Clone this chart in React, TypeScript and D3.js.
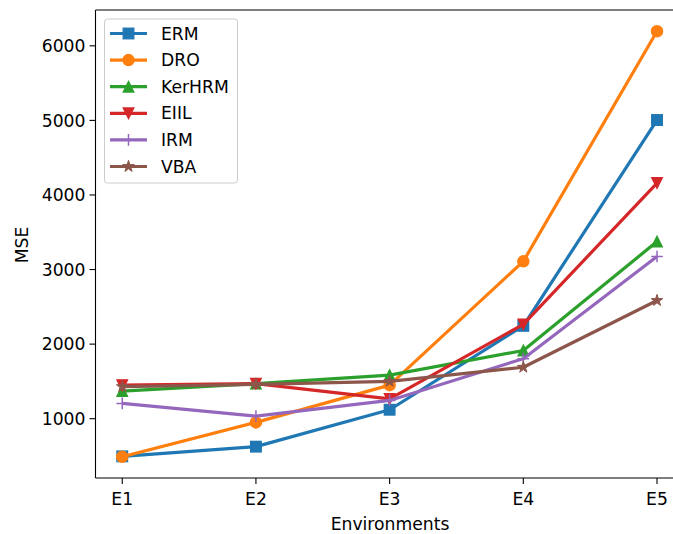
import React from "react";
import * as d3 from "d3";

const categories = ["E1", "E2", "E3", "E4", "E5"];
const seriesNames = ["ERM", "DRO", "KerHRM", "EIIL", "IRM", "VBA"];
const ermValues = [495, 625, 1120, 2245, 5005];
const droValues = [490, 950, 1450, 3110, 6195];
const kerhrmValues = [1370, 1470, 1585, 1915, 3375];
const eiilValues = [1450, 1470, 1265, 2265, 4160];
const irmValues = [1205, 1035, 1245, 1805, 3175];
const vbaValues = [1430, 1460, 1500, 1690, 2585];
const yTicks = [1000, 2000, 3000, 4000, 5000, 6000];
const colors = ["#1f77b4", "#ff7f0e", "#2ca02c", "#d62728", "#9467bd", "#8c564b"];
const markers = ["square", "circle", "triUp", "triDown", "plus", "star"];

const allSeries = [ermValues, droValues, kerhrmValues, eiilValues, irmValues, vbaValues];

const W = 673;
const H = 534;
const left = 95.5;
const top = 10;
const bottom = 478;
const FONT = "DejaVu Sans, sans-serif";
const FS = 17.2;

function Marker({ type, x, y, color }: { type: string; x: number; y: number; color: string }) {
  const r = 5.3;
  const sw = 1.3;
  if (type === "square")
    return <rect x={x - r} y={y - r} width={2 * r} height={2 * r} fill={color} stroke={color} strokeWidth={sw} />;
  if (type === "circle") return <circle cx={x} cy={y} r={r + 0.3} fill={color} stroke={color} strokeWidth={sw} />;
  if (type === "triUp")
    return (
      <path d={`M${x},${y - r} L${x + r},${y + r} L${x - r},${y + r} Z`} fill={color} stroke={color} strokeWidth={sw} strokeLinejoin="miter" />
    );
  if (type === "triDown")
    return (
      <path d={`M${x},${y + r} L${x + r},${y - r} L${x - r},${y - r} Z`} fill={color} stroke={color} strokeWidth={sw} strokeLinejoin="miter" />
    );
  if (type === "plus")
    return (
      <path d={`M${x - r - 0.5},${y} H${x + r + 0.5} M${x},${y - r - 0.5} V${y + r + 0.5}`} stroke={color} strokeWidth={1.5} fill="none" />
    );
  const pts: string[] = [];
  const R = r + 0.8;
  const ri = R * 0.381966;
  for (let i = 0; i < 10; i++) {
    const rad = i % 2 === 0 ? R : ri;
    const a = -Math.PI / 2 + (i * Math.PI) / 5;
    pts.push(`${x + rad * Math.cos(a)},${y + rad * Math.sin(a)}`);
  }
  return <path d={`M${pts.join("L")}Z`} fill={color} stroke={color} strokeWidth={1} strokeLinejoin="miter" />;
}

export default function App() {
  const flat = allSeries.flat();
  const mn = d3.min(flat)!;
  const mx = d3.max(flat)!;
  const pad = (mx - mn) * 0.05;
  const x = d3.scaleLinear().domain([-0.2, categories.length - 1 + 0.2]).range([left, 683.75]);
  const y = d3.scaleLinear().domain([mn - pad, mx + pad]).range([bottom, top]);
  const line = d3
    .line<number>()
    .x((_, i) => x(i))
    .y((d) => y(d));

  const legX = 104.5;
  const legY = 19;
  const legW = 133;
  const legH = 164;
  const rowY = (i: number) => 33.5 + i * 26.6;

  return (
    <svg width={W} height={H} style={{ position: "absolute", left: 0, top: 0, background: "#fff" }} fontFamily={FONT}>
      <rect width={W} height={H} fill="#fff" />
      <g>
        {allSeries.map((vals, si) => (
          <g key={si}>
            <path d={line(vals)!} fill="none" stroke={colors[si]} strokeWidth={3.2} strokeLinejoin="round" strokeLinecap="butt" />
            {vals.map((v, i) => (
              <Marker key={i} type={markers[si]} x={x(i)} y={y(v)} color={colors[si]} />
            ))}
          </g>
        ))}
      </g>
      <line x1={left} x2={left} y1={top} y2={bottom} stroke="#000" strokeWidth={1.1} />
      <line x1={left} x2={W} y1={bottom} y2={bottom} stroke="#000" strokeWidth={1.1} />
      <line x1={left} x2={W} y1={top} y2={top} stroke="#000" strokeWidth={1.1} />
      {yTicks.map((t) => (
        <g key={t}>
          <line x1={left - 6} x2={left} y1={y(t)} y2={y(t)} stroke="#000" strokeWidth={1.1} />
          <text x={left - 10} y={y(t)} dy="0.36em" textAnchor="end" fontSize={FS} fill="#000">
            {t}
          </text>
        </g>
      ))}
      {categories.map((c, i) => (
        <g key={c}>
          <line x1={x(i)} x2={x(i)} y1={bottom} y2={bottom + 6} stroke="#000" strokeWidth={1.1} />
          <text x={x(i)} y={bottom + 27} textAnchor="middle" fontSize={FS} fill="#000">
            {c}
          </text>
        </g>
      ))}
      <text x={390} y={530} textAnchor="middle" fontSize={FS} fill="#000">
        Environments
      </text>
      <text transform={`translate(28,245) rotate(-90)`} textAnchor="middle" fontSize={FS} fill="#000">
        MSE
      </text>
      <rect x={legX} y={legY} width={legW} height={legH} rx={3} fill="#fff" fillOpacity={0.8} stroke="#cccccc" strokeWidth={1} />
      {seriesNames.map((n, i) => (
        <g key={n}>
          <line x1={110} x2={147} y1={rowY(i)} y2={rowY(i)} stroke={colors[i]} strokeWidth={3.2} />
          <Marker type={markers[i]} x={128.5} y={rowY(i)} color={colors[i]} />
          <text x={161} y={rowY(i)} dy="0.36em" fontSize={FS} fill="#000">
            {n}
          </text>
        </g>
      ))}
    </svg>
  );
}
